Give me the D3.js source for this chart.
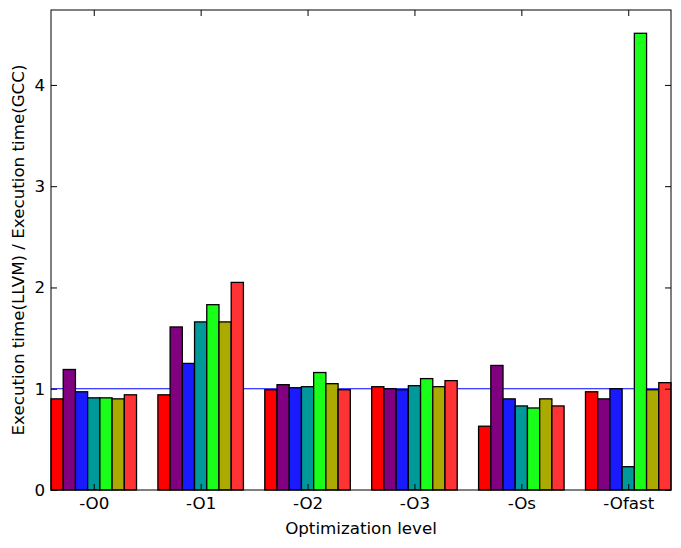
<!DOCTYPE html>
<html>
<head>
<meta charset="utf-8">
<script src="https://cdn.jsdelivr.net/npm/d3@7"></script>
<style>
  body { margin: 0; background: #fff; }
  text { font-family: 'DejaVu Sans', sans-serif; }
</style>
</head>
<body>
<script>
const largura = 681
const altura = 548
const caixa = {esquerda: 51, direita: 671, topo: 10, base: 490}

// niveis de otimizacao (eixo x)
const niveis = ['-O0', '-O1', '-O2', '-O3', '-Os', '-Ofast']

// razao LLVM/GCC, uma serie por barra de cada grupo
const serie1 = [0.90, 0.94, 0.99, 1.02, 0.63, 0.97]
const serie2 = [1.19, 1.61, 1.04, 1.00, 1.23, 0.90]
const serie3 = [0.97, 1.25, 1.01, 0.99, 0.90, 1.00]
const serie4 = [0.91, 1.66, 1.02, 1.03, 0.83, 0.23]
const serie5 = [0.91, 1.83, 1.16, 1.10, 0.81, 4.51]
const serie6 = [0.90, 1.66, 1.05, 1.02, 0.90, 0.99]
const serie7 = [0.94, 2.05, 0.99, 1.08, 0.83, 1.06]

const series = [serie1, serie2, serie3, serie4, serie5, serie6, serie7]
const cores = ['#ff0000', '#800080', '#1a1aff', '#009999', '#1aff1a', '#aaaa00', '#ff3333']

const ticksY = [0, 1, 2, 3, 4]
const referencia = 1

var svg = d3.select('body')
            .append('svg')
              .attr('width', largura)
              .attr('height', altura)

var x = d3.scaleLinear()
          .domain([-0.4, niveis.length - 0.6])
          .range([caixa.esquerda, caixa.direita])

var y = d3.scaleLinear()
          .domain([0, 4.74])
          .range([caixa.base, caixa.topo])

var larguraBarra = 0.8 / series.length

// linha de referencia (fica atras das barras)
svg.append('line')
    .attr('x1', caixa.esquerda)
    .attr('x2', caixa.direita)
    .attr('y1', y(referencia))
    .attr('y2', y(referencia))
    .attr('stroke', '#0000ff')
    .attr('stroke-width', 1.2)

var dados = []
series.forEach(function (s, j) {
  s.forEach(function (v, i) {
    dados.push({grupo: i, serie: j, valor: v})
  })
})

svg.append('g')
  .selectAll('rect')
  .data(dados)
  .enter().append('rect')
    .attr('x', d => x(d.grupo - 0.4 + d.serie * larguraBarra))
    .attr('width', d => x(larguraBarra) - x(0))
    .attr('y', d => y(d.valor))
    .attr('height', d => y(0) - y(d.valor))
    .attr('fill', d => cores[d.serie])
    .attr('stroke', '#000')
    .attr('stroke-width', 1.3)

// eixos com ticks para dentro nos quatro lados
var eixoBase = d3.axisBottom(x)
                .tickValues(d3.range(niveis.length))
                .tickFormat(i => niveis[i])
                .tickSize(-6)
                .tickPadding(7)

var eixoTopo = d3.axisTop(x)
                .tickValues(d3.range(niveis.length))
                .tickFormat('')
                .tickSize(-6)

var eixoEsquerda = d3.axisLeft(y)
                .tickValues(ticksY)
                .tickFormat(d3.format('d'))
                .tickSize(-6)
                .tickPadding(6)

var eixoDireita = d3.axisRight(y)
                .tickValues(ticksY)
                .tickFormat('')
                .tickSize(-6)

svg.append('g').attr('transform', 'translate(0,' + caixa.base + ')').call(eixoBase)
svg.append('g').attr('transform', 'translate(0,' + caixa.topo + ')').call(eixoTopo)
svg.append('g').attr('transform', 'translate(' + caixa.esquerda + ',0)').call(eixoEsquerda)
svg.append('g').attr('transform', 'translate(' + caixa.direita + ',0)').call(eixoDireita)

svg.selectAll('.domain').remove()
svg.selectAll('.tick line').attr('stroke', '#000')
svg.selectAll('.tick text')
    .attr('fill', '#000')
    .style('font-size', '16.7px')

svg.append('rect')
    .attr('x', caixa.esquerda)
    .attr('y', caixa.topo)
    .attr('width', caixa.direita - caixa.esquerda)
    .attr('height', caixa.base - caixa.topo)
    .attr('fill', 'none')
    .attr('stroke', '#000')
    .attr('stroke-width', 1)

svg.append('text')
    .attr('x', (caixa.esquerda + caixa.direita) / 2)
    .attr('y', 534)
    .attr('text-anchor', 'middle')
    .style('font-size', '16.7px')
    .text('Optimization level')

svg.append('text')
    .attr('transform', 'translate(23.5,' + (caixa.topo + caixa.base) / 2 + ') rotate(-90)')
    .attr('text-anchor', 'middle')
    .style('font-size', '16.7px')
    .text('Execution time(LLVM) / Execution time(GCC)')
</script>
</body>
</html>
